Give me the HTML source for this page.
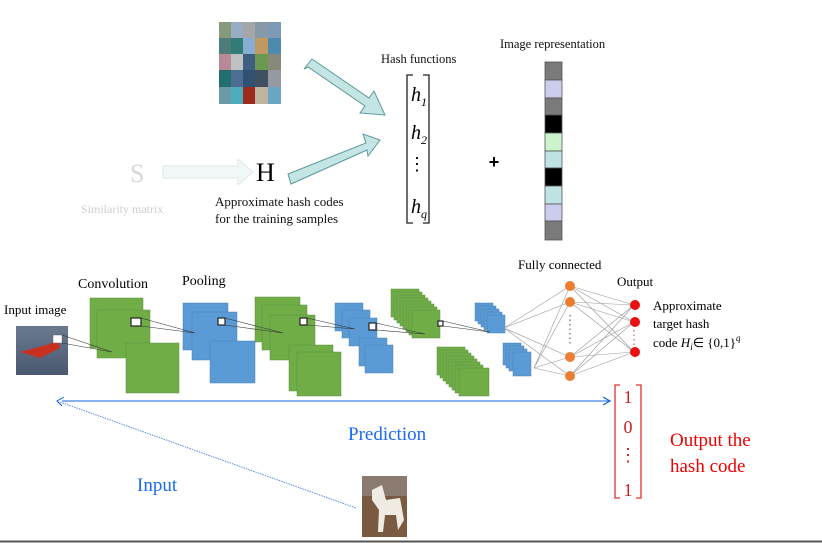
<!DOCTYPE html>
<html><head><meta charset="utf-8"><style>
html,body{margin:0;padding:0;background:#fff;}
svg{display:block;font-family:"Liberation Serif",serif;}
</style></head><body>
<svg width="822" height="543" viewBox="0 0 822 543" xmlns="http://www.w3.org/2000/svg">
<defs>
<linearGradient id="sky" x1="0" y1="0" x2="0" y2="1"><stop offset="0" stop-color="#6a7890"/><stop offset="1" stop-color="#4a5870"/></linearGradient>
</defs>
<!-- image grid -->
<g>
<rect x="219" y="22" width="62" height="82" fill="#6f8a98"/>
<g fill-opacity="0.9">
<rect x="219" y="22" width="12" height="16" fill="#8a9a7a"/><rect x="231" y="22" width="12" height="16" fill="#9ab0c8"/><rect x="243" y="22" width="12" height="16" fill="#aaaaaa"/><rect x="255" y="22" width="13" height="16" fill="#8a9aa8"/><rect x="268" y="22" width="13" height="16" fill="#7f9ab8"/>
<rect x="219" y="38" width="12" height="16" fill="#4a7a78"/><rect x="231" y="38" width="12" height="16" fill="#2a7a70"/><rect x="243" y="38" width="12" height="16" fill="#8ab0d8"/><rect x="255" y="38" width="13" height="16" fill="#c89a5a"/><rect x="268" y="38" width="13" height="16" fill="#4a88b0"/>
<rect x="219" y="54" width="12" height="16" fill="#c08a98"/><rect x="231" y="54" width="12" height="16" fill="#c8c8c8"/><rect x="243" y="54" width="12" height="16" fill="#3a5a80"/><rect x="255" y="54" width="13" height="16" fill="#6a9a4a"/><rect x="268" y="54" width="13" height="16" fill="#8a8a78"/>
<rect x="219" y="70" width="12" height="17" fill="#1a6a6a"/><rect x="231" y="70" width="12" height="17" fill="#4a6a90"/><rect x="243" y="70" width="12" height="17" fill="#2a4a70"/><rect x="255" y="70" width="13" height="17" fill="#3a4a5a"/><rect x="268" y="70" width="13" height="17" fill="#9a9aa0"/>
<rect x="219" y="87" width="12" height="17" fill="#6a9aa8"/><rect x="231" y="87" width="12" height="17" fill="#4ab0c0"/><rect x="243" y="87" width="12" height="17" fill="#a02010"/><rect x="255" y="87" width="13" height="17" fill="#c8b8a0"/><rect x="268" y="87" width="13" height="17" fill="#6aa8c8"/>
</g></g>
<!-- thick arrows -->
<polygon points="304,69 312,59 369,98 374,91 385,115 360,113 365,106 308,67" fill="#c5e4e4" stroke="#5a9a9a" stroke-width="1"/>
<polygon points="288,174 366,143 363,134 380,140 368,156 367,150 291,184" fill="#c5e4e4" stroke="#5a9a9a" stroke-width="1"/>
<!-- S -->
<text x="130" y="182" font-size="26" fill="#d8d8d8">S</text>
<polygon points="163,166 238,166 238,159 253,172 238,185 238,178 163,178" fill="#f2f8f8" stroke="#dde8e8"/>
<text x="81" y="213" font-size="12" fill="#cfcfcf">Similarity matrix</text>
<text x="256" y="181" font-size="26" fill="#000">H</text>
<text x="215" y="206" font-size="13" fill="#111">Approximate hash codes</text>
<text x="215" y="223" font-size="13" fill="#111">for the training samples</text>
<text x="381" y="63" font-size="12.5" fill="#111">Hash functions</text>
<!-- bracket -->
<path d="M413,75 H407 V223 H413 M423,75 H429 V223 H423" fill="none" stroke="#222" stroke-width="1.3"/>
<text x="419" y="101" font-size="20" font-style="italic" text-anchor="middle">h<tspan font-size="12" dy="5">1</tspan></text>
<text x="419" y="139" font-size="20" font-style="italic" text-anchor="middle">h<tspan font-size="12" dy="5">2</tspan></text>
<text x="417" y="170" font-size="18" text-anchor="middle">⋮</text>
<text x="419" y="213" font-size="20" font-style="italic" text-anchor="middle">h<tspan font-size="12" dy="5">q</tspan></text>
<text x="494" y="168" font-size="18" font-family="Liberation Sans" text-anchor="middle" font-weight="bold">+</text>
<text x="500" y="48" font-size="12.5" fill="#111">Image representation</text>
<g stroke="#555" stroke-width="0.8">
<rect x="545" y="62" width="17" height="18" fill="#7a7a7a"/>
<rect x="545" y="80" width="17" height="18" fill="#ccccec"/>
<rect x="545" y="98" width="17" height="17" fill="#7a7a7a"/>
<rect x="545" y="115" width="17" height="18" fill="#000"/>
<rect x="545" y="133" width="17" height="18" fill="#ccf4cc"/>
<rect x="545" y="151" width="17" height="17" fill="#bfe2e2"/>
<rect x="545" y="168" width="17" height="18" fill="#000"/>
<rect x="545" y="186" width="17" height="18" fill="#bfe2e2"/>
<rect x="545" y="204" width="17" height="17" fill="#ccccec"/>
<rect x="545" y="221" width="17" height="19" fill="#7a7a7a"/>
</g>
<!-- CNN -->
<text x="4" y="314" font-size="13">Input image</text>
<rect x="16" y="326" width="52" height="49" fill="url(#sky)"/>
<path d="M20,352 L50,344 L58,338 L60,348 L40,358 Z" fill="#c83020"/>
<rect x="53" y="335" width="9" height="8" fill="#fff" stroke="#666" stroke-width="0.5"/>
<text x="78" y="288" font-size="14">Convolution</text>
<text x="182" y="285" font-size="14">Pooling</text>
<g fill="#70ad47" stroke="#5a9040" stroke-width="0.5">
<rect x="90" y="298" width="53" height="50"/><rect x="97" y="310" width="53" height="48"/><rect x="126" y="343" width="53" height="50"/>
<rect x="255" y="297" width="45" height="45"/><rect x="262" y="305" width="45" height="45"/><rect x="270" y="315" width="45" height="45"/>
<rect x="289" y="345" width="44" height="46"/><rect x="297" y="352" width="44" height="44"/>
</g>
<g fill="#70ad47" stroke="#5a9040" stroke-width="0.5">
<rect x="391" y="289" width="28" height="28"/><rect x="394" y="292" width="28" height="28"/><rect x="397" y="295" width="28" height="28"/><rect x="400" y="298" width="28" height="28"/><rect x="403" y="301" width="28" height="28"/><rect x="406" y="304" width="28" height="28"/><rect x="409" y="307" width="28" height="28"/><rect x="412" y="310" width="28" height="28"/>
<rect x="437" y="347" width="28" height="28"/><rect x="440" y="350" width="28" height="28"/><rect x="443" y="353" width="28" height="28"/><rect x="446" y="356" width="28" height="28"/><rect x="449" y="359" width="28" height="28"/><rect x="452" y="362" width="28" height="28"/><rect x="455" y="365" width="28" height="28"/><rect x="459" y="368" width="30" height="28"/>
</g>
<g fill="#5b9bd5" stroke="#4a82b8" stroke-width="0.5">
<rect x="183" y="303" width="45" height="47"/><rect x="192" y="312" width="45" height="48"/><rect x="210" y="341" width="45" height="42"/>
<rect x="335" y="303" width="28" height="28"/><rect x="342" y="310" width="28" height="28"/><rect x="349" y="318" width="28" height="28"/>
<rect x="359" y="338" width="28" height="28"/><rect x="365" y="345" width="28" height="28"/>
<rect x="475" y="303" width="18" height="18"/><rect x="478" y="306" width="18" height="18"/><rect x="481" y="309" width="18" height="18"/><rect x="484" y="312" width="18" height="18"/><rect x="487" y="315" width="18" height="18"/>
<rect x="503" y="343" width="18" height="22"/><rect x="506" y="346" width="18" height="22"/><rect x="509" y="349" width="18" height="22"/><rect x="513" y="352" width="18" height="24"/>
</g>
<g fill="#fff" stroke="#222" stroke-width="1.2">
<rect x="131" y="318" width="10" height="8"/><rect x="218" y="318" width="7" height="7"/><rect x="300" y="318" width="7" height="7"/><rect x="369" y="323" width="7" height="7"/><rect x="438" y="321" width="5" height="5"/>
</g>
<g stroke="#333" stroke-width="0.6" fill="none">
<path d="M62,335 L112,352 M62,343 L112,352 M141,318 L195,333 M141,326 L195,333 M225,318 L283,333 M225,325 L283,333 M307,318 L355,329 M307,325 L355,329 M376,323 L425,334 M376,330 L425,334 M443,321 L490,332 M443,326 L490,332"/>
</g>
<!-- FC -->
<g stroke="#999" stroke-width="0.6">
<path d="M504,328 L570,286 M504,328 L570,302 M504,328 L570,357 M504,328 L570,376 M534,368 L570,286 M534,368 L570,302 M534,368 L570,357 M534,368 L570,376"/>
<path d="M570,286 L634,305 M570,286 L634,322 M570,286 L634,352 M570,302 L634,305 M570,302 L634,322 M570,302 L634,352 M570,357 L634,305 M570,357 L634,322 M570,357 L634,352 M570,376 L634,305 M570,376 L634,322 M570,376 L634,352"/>
</g>
<path d="M570,315 V345" stroke="#444" stroke-dasharray="1.5,3"/>
<path d="M634,330 V345" stroke="#c44" stroke-dasharray="1.5,3"/>
<g fill="#ed7d31"><circle cx="570" cy="286" r="5"/><circle cx="570" cy="302" r="5"/><circle cx="570" cy="357" r="5"/><circle cx="570" cy="376" r="5"/></g>
<g fill="#e81010"><circle cx="635" cy="305" r="5"/><circle cx="635" cy="322" r="5"/><circle cx="635" cy="352" r="5"/></g>
<text x="518" y="269" font-size="13">Fully connected</text>
<text x="617" y="286" font-size="13">Output</text>
<text x="653" y="310" font-size="13">Approximate</text>
<text x="653" y="328" font-size="13">target hash</text>
<text x="653" y="347" font-size="13">code  <tspan font-style="italic">H<tspan font-size="9" dy="3">i</tspan></tspan><tspan dy="-3">∈ {0,1}</tspan><tspan font-size="9" font-style="italic" dy="-6">q</tspan></text>
<!-- prediction arrows -->
<line x1="62" y1="401" x2="609" y2="401" stroke="#1060e0" stroke-width="1"/>
<path d="M603,397 L610,401 L603,405" fill="none" stroke="#1060e0" stroke-width="1.2"/>
<path d="M64,397 L57,401 L62,406" fill="none" stroke="#1060e0" stroke-width="1"/>
<line x1="60" y1="402" x2="356" y2="508" stroke="#5a8ae0" stroke-width="1" stroke-dasharray="1.5,1"/>
<text x="348" y="440" font-size="19" fill="#1a6af0">Prediction</text>
<text x="137" y="491" font-size="19" fill="#1a6af0">Input</text>
<!-- dog -->
<rect x="362" y="476" width="45" height="61" fill="#7a5a40"/>
<rect x="362" y="476" width="45" height="20" fill="#8a7a70"/>
<path d="M372,490 L382,485 L386,500 L400,498 L404,520 L398,530 L396,515 L385,515 L383,532 L378,532 L379,510 L372,500 Z" fill="#f0ece4"/>
<!-- output bracket -->
<path d="M620,385 H615 V498 H620 M636,385 H641 V498 H636" fill="none" stroke="#e03030" stroke-width="1.3"/>
<g font-size="18" fill="#d02020" text-anchor="middle">
<text x="628" y="403">1</text><text x="628" y="433">0</text><text x="628" y="461">⋮</text><text x="628" y="496">1</text>
</g>
<text x="670" y="446" font-size="19" fill="#f00000">Output the</text>
<text x="670" y="472" font-size="19" fill="#f00000">hash code</text>
<line x1="0" y1="541.5" x2="822" y2="541.5" stroke="#555" stroke-width="2"/>
</svg>
</body></html>
